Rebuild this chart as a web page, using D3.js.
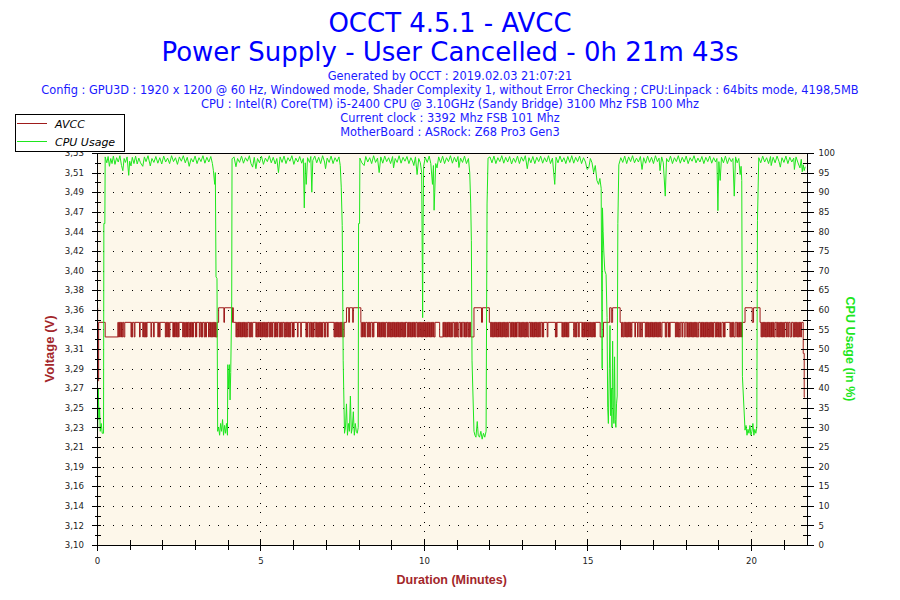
<!DOCTYPE html>
<meta charset="utf-8">
<script src="https://d3js.org/d3.v7.min.js"></script>
<style>
  body { margin: 0; background: #fff; }
</style>
<svg id="chart" width="900" height="600"></svg>
<script>

// ---- data ----
const titleLines = ["OCCT 4.5.1 - AVCC", "Power Supply - User Cancelled - 0h 21m 43s"];
const infoLines = [
  "Generated by OCCT : 2019.02.03 21:07:21",
  "Config : GPU3D : 1920 x 1200 @ 60 Hz, Windowed mode, Shader Complexity 1, without Error Checking ; CPU:Linpack : 64bits mode, 4198,5MB",
  "CPU : Intel(R) Core(TM) i5-2400 CPU @ 3.10GHz (Sandy Bridge) 3100 Mhz FSB 100 Mhz",
  "Current clock : 3392 Mhz FSB 101 Mhz",
  "MotherBoard : ASRock: Z68 Pro3 Gen3"
];
const seriesNames = ["AVCC", "CPU Usage"];
const minuteLabels = [0, 5, 10, 15, 20];
const voltLabels = ["3,10","3,12","3,14","3,16","3,19","3,21","3,23","3,25","3,27","3,29","3,31",
                    "3,34","3,36","3,38","3,40","3,42","3,44","3,47","3,49","3,51","3,53"];
const cpuTicks = [0,5,10,15,20,25,30,35,40,45,50,55,60,65,70,75,80,85,90,95,100];

// AVCC voltage [minute, volts] (step changes)
const avcc = [
  [0,3.36],[0.02,3.28],[0.05,3.344],[0.25,3.328],[0.64,3.344],
  [0.65,3.328],[0.67,3.344],[0.69,3.328],[0.71,3.344],[0.73,3.328],[0.75,3.344],[0.77,3.328],[0.79,3.344],
  [0.82,3.328],[0.85,3.344],
  [1.04,3.328],[1.06,3.344],[1.07,3.328],[1.09,3.344],
  [1.14,3.328],[1.16,3.344],
  [1.3,3.328],[1.32,3.344],
  [1.4,3.328],[1.42,3.344],[1.44,3.328],[1.46,3.344],[1.48,3.328],[1.5,3.344],[1.51,3.328],[1.53,3.344],
  [1.65,3.328],[1.67,3.344],[1.73,3.328],[1.75,3.344],[1.86,3.328],[1.88,3.344],[1.91,3.328],[1.93,3.344],
  [2.09,3.328],[2.11,3.344],[2.13,3.328],[2.15,3.344],[2.17,3.328],[2.19,3.344],[2.21,3.328],[2.23,3.344],
  [2.32,3.328],[2.34,3.344],
  [2.37,3.328],[2.39,3.344],[2.41,3.328],[2.43,3.344],[2.45,3.328],[2.47,3.344],[2.49,3.328],[2.51,3.344],
  [2.62,3.328],[2.64,3.344],[2.66,3.328],[2.68,3.344],[2.7,3.328],[2.72,3.344],[2.74,3.328],[2.76,3.344],[2.77,3.328],[2.79,3.344],
  [2.82,3.328],[2.84,3.344],[2.86,3.328],[2.88,3.344],[2.9,3.328],[2.92,3.344],[2.93,3.328],[2.95,3.344],
  [3.01,3.328],[3.03,3.344],[3.04,3.328],[3.05,3.344],
  [3.13,3.328],[3.15,3.344],
  [3.18,3.328],[3.2,3.344],[3.21,3.328],[3.23,3.344],
  [3.28,3.328],[3.3,3.344],[3.32,3.328],[3.35,3.344],
  [3.41,3.328],[3.43,3.344],[3.45,3.328],[3.47,3.344],[3.49,3.328],[3.51,3.344],[3.53,3.328],[3.55,3.344],
  [3.57,3.328],[3.59,3.344],[3.61,3.328],[3.63,3.344],[3.64,3.328],[3.67,3.344],
  [3.72,3.36],[3.88,3.344],[3.9,3.36],[4.13,3.344],[4.14,3.36],[4.17,3.344],
  [4.25,3.328],[4.27,3.344],[4.29,3.328],[4.31,3.344],[4.33,3.328],[4.35,3.344],[4.37,3.328],[4.39,3.344],
  [4.41,3.328],[4.43,3.344],[4.45,3.328],[4.47,3.344],[4.49,3.328],[4.51,3.344],[4.53,3.328],[4.55,3.344],[4.57,3.328],[4.6,3.344],
  [4.65,3.328],[4.67,3.344],[4.69,3.328],[4.71,3.344],[4.73,3.328],[4.76,3.344],
  [4.86,3.328],[4.88,3.344],[4.9,3.328],[4.92,3.344],[4.94,3.328],[4.96,3.344],[4.98,3.328],[5.0,3.344],[5.02,3.328],[5.04,3.344],
  [5.06,3.328],[5.08,3.344],[5.1,3.328],[5.12,3.344],[5.14,3.328],[5.16,3.344],[5.18,3.328],[5.2,3.344],[5.21,3.328],[5.23,3.344],
  [5.27,3.328],[5.29,3.344],[5.31,3.328],[5.33,3.344],[5.35,3.328],[5.37,3.344],
  [5.42,3.328],[5.44,3.344],[5.46,3.328],[5.48,3.344],[5.5,3.328],[5.52,3.344],
  [5.57,3.328],[5.59,3.344],[5.61,3.328],[5.63,3.344],[5.65,3.328],[5.67,3.344],
  [5.72,3.328],[5.74,3.344],[5.76,3.328],[5.78,3.344],[5.8,3.328],[5.82,3.344],[5.84,3.328],[5.86,3.344],[5.88,3.328],[5.9,3.344],[5.91,3.328],[5.93,3.344],
  [5.98,3.328],[6.0,3.344],[6.01,3.328],[6.03,3.344],
  [6.13,3.328],[6.15,3.344],[6.23,3.328],[6.25,3.344],
  [6.39,3.328],[6.41,3.344],[6.42,3.328],[6.44,3.344],
  [6.49,3.328],[6.51,3.344],
  [6.54,3.328],[6.56,3.344],[6.58,3.328],[6.6,3.344],[6.62,3.328],[6.64,3.344],
  [6.69,3.328],[6.71,3.344],[6.73,3.328],[6.75,3.344],[6.77,3.328],[6.79,3.344],[6.81,3.328],[6.83,3.344],[6.85,3.328],[6.87,3.344],[6.88,3.328],[6.9,3.344],
  [6.95,3.328],[6.97,3.344],[6.98,3.328],[7.0,3.344],
  [7.05,3.328],[7.07,3.344],
  [7.25,3.328],[7.27,3.344],[7.29,3.328],[7.31,3.344],[7.33,3.328],[7.35,3.344],[7.37,3.328],[7.39,3.344],
  [7.41,3.328],[7.43,3.344],[7.45,3.328],[7.47,3.344],[7.49,3.328],[7.51,3.344],[7.53,3.328],[7.56,3.344],
  [7.63,3.36],[7.7,3.344],[7.72,3.36],[7.82,3.344],[7.84,3.36],[8.07,3.344],
  [8.08,3.328],[8.1,3.344],[8.12,3.328],[8.14,3.344],[8.16,3.328],[8.18,3.344],[8.2,3.328],[8.22,3.344],
  [8.27,3.328],[8.29,3.344],[8.31,3.328],[8.33,3.344],[8.35,3.328],[8.37,3.344],
  [8.42,3.328],[8.44,3.344],[8.45,3.328],[8.47,3.344],
  [8.58,3.328],[8.6,3.344],[8.62,3.328],[8.64,3.344],[8.66,3.328],[8.68,3.344],[8.7,3.328],[8.72,3.344],
  [8.74,3.328],[8.76,3.344],[8.78,3.328],[8.8,3.344],[8.81,3.328],[8.83,3.344],
  [8.88,3.328],[8.9,3.344],[8.92,3.328],[8.94,3.344],[8.96,3.328],[8.98,3.344],[9.0,3.328],[9.02,3.344],
  [9.04,3.328],[9.06,3.344],[9.08,3.328],[9.1,3.344],[9.12,3.328],[9.14,3.344],[9.16,3.328],[9.18,3.344],
  [9.2,3.328],[9.22,3.344],[9.24,3.328],[9.26,3.344],[9.28,3.328],[9.3,3.344],[9.32,3.328],[9.34,3.344],
  [9.36,3.328],[9.38,3.344],[9.4,3.328],[9.42,3.344],[9.43,3.328],[9.44,3.344],
  [9.49,3.328],[9.51,3.344],[9.53,3.328],[9.55,3.344],[9.57,3.328],[9.59,3.344],[9.61,3.328],[9.63,3.344],
  [9.65,3.328],[9.67,3.344],[9.69,3.328],[9.71,3.344],[9.73,3.328],[9.75,3.344],
  [9.79,3.328],[9.81,3.344],[9.83,3.328],[9.85,3.344],[9.87,3.328],[9.89,3.344],[9.91,3.328],[9.93,3.344],
  [9.95,3.328],[9.97,3.344],[9.99,3.328],[10.01,3.344],[10.03,3.328],[10.05,3.344],[10.07,3.328],[10.09,3.344],
  [10.11,3.328],[10.13,3.344],[10.15,3.328],[10.17,3.344],[10.19,3.328],[10.21,3.344],[10.23,3.328],[10.25,3.344],
  [10.27,3.328],[10.29,3.344],[10.31,3.328],[10.34,3.344],
  [10.48,3.328],[10.58,3.344],
  [10.6,3.328],[10.62,3.344],[10.64,3.328],[10.66,3.344],[10.68,3.328],[10.7,3.344],[10.72,3.328],[10.74,3.344],
  [10.76,3.328],[10.78,3.344],[10.8,3.328],[10.82,3.344],[10.84,3.328],[10.87,3.344],
  [10.92,3.328],[10.94,3.344],[10.96,3.328],[10.98,3.344],[11.0,3.328],[11.02,3.344],[11.04,3.328],[11.07,3.344],
  [11.12,3.328],[11.14,3.344],[11.15,3.328],[11.17,3.344],
  [11.22,3.328],[11.24,3.344],[11.26,3.328],[11.28,3.344],[11.3,3.328],[11.32,3.344],
  [11.35,3.328],[11.37,3.344],[11.39,3.328],[11.41,3.344],[11.43,3.328],
  [11.53,3.36],[11.76,3.344],[11.79,3.36],[12.0,3.344],
  [12.04,3.328],[12.06,3.344],[12.08,3.328],[12.1,3.344],[12.12,3.328],[12.14,3.344],[12.16,3.328],[12.18,3.344],
  [12.2,3.328],[12.22,3.344],[12.24,3.328],[12.26,3.344],[12.28,3.328],[12.3,3.344],[12.32,3.328],[12.34,3.344],
  [12.36,3.328],[12.38,3.344],[12.4,3.328],[12.42,3.344],[12.44,3.328],[12.46,3.344],[12.48,3.328],[12.5,3.344],
  [12.52,3.328],[12.54,3.344],[12.56,3.328],[12.59,3.344],
  [12.64,3.328],[12.66,3.344],[12.68,3.328],[12.7,3.344],[12.72,3.328],[12.74,3.344],[12.76,3.328],[12.78,3.344],
  [12.8,3.328],[12.82,3.344],[12.83,3.328],[12.85,3.344],
  [12.9,3.328],[12.92,3.344],[12.94,3.328],[12.96,3.344],[12.98,3.328],[13.0,3.344],[13.02,3.328],[13.04,3.344],
  [13.06,3.328],[13.08,3.344],[13.1,3.328],[13.12,3.344],[13.14,3.328],[13.16,3.344],[13.18,3.328],[13.21,3.344],
  [13.26,3.328],[13.28,3.344],[13.3,3.328],[13.32,3.344],[13.34,3.328],[13.36,3.344],[13.38,3.328],[13.4,3.344],
  [13.42,3.328],[13.44,3.344],[13.46,3.328],[13.48,3.344],[13.5,3.328],[13.52,3.344],[13.54,3.328],[13.56,3.344],
  [13.61,3.328],[13.63,3.344],[13.64,3.328],[13.66,3.344],
  [13.77,3.328],[13.79,3.344],
  [14.02,3.328],[14.04,3.344],[14.05,3.328],[14.07,3.344],
  [14.22,3.328],[14.24,3.344],[14.26,3.328],[14.28,3.344],[14.3,3.328],[14.32,3.344],[14.34,3.328],[14.36,3.344],
  [14.38,3.328],[14.4,3.344],[14.41,3.328],[14.43,3.344],
  [14.58,3.328],[14.6,3.344],[14.63,3.328],[14.65,3.344],[14.66,3.328],[14.68,3.344],
  [14.73,3.328],[14.75,3.344],
  [14.83,3.328],[14.85,3.344],[14.87,3.328],[14.89,3.344],[14.91,3.328],[14.93,3.344],[14.95,3.328],[14.97,3.344],
  [14.99,3.328],[15.01,3.344],[15.03,3.328],[15.05,3.344],[15.07,3.328],[15.09,3.344],[15.11,3.328],[15.13,3.344],
  [15.15,3.328],[15.17,3.344],[15.19,3.328],[15.21,3.344],[15.22,3.328],[15.24,3.344],
  [15.39,3.328],[15.49,3.344],
  [15.68,3.36],[15.73,3.344],[15.77,3.36],[16.0,3.344],
  [16.04,3.328],[16.06,3.344],[16.08,3.328],[16.11,3.344],
  [16.14,3.328],[16.16,3.344],[16.18,3.328],[16.2,3.344],[16.22,3.328],[16.24,3.344],[16.26,3.328],[16.28,3.344],
  [16.3,3.328],[16.32,3.344],[16.34,3.328],[16.36,3.344],
  [16.45,3.328],[16.47,3.344],[16.53,3.328],[16.55,3.344],[16.6,3.328],[16.62,3.344],[16.66,3.328],[16.68,3.344],
  [16.77,3.328],[16.79,3.344],[16.81,3.328],[16.83,3.344],[16.85,3.328],[16.87,3.344],[16.89,3.328],[16.91,3.344],
  [16.93,3.328],[16.95,3.344],[16.97,3.328],[16.99,3.344],[17.01,3.328],[17.03,3.344],[17.05,3.328],[17.07,3.344],
  [17.09,3.328],[17.11,3.344],[17.13,3.328],[17.15,3.344],[17.17,3.328],[17.19,3.344],[17.21,3.328],[17.23,3.344],
  [17.25,3.328],[17.28,3.344],
  [17.38,3.328],[17.4,3.344],[17.41,3.328],[17.43,3.344],
  [17.48,3.328],[17.5,3.344],[17.51,3.328],[17.53,3.344],
  [17.69,3.328],[17.71,3.344],[17.73,3.328],[17.75,3.344],[17.77,3.328],[17.79,3.344],[17.81,3.328],[17.84,3.344],
  [17.89,3.328],[17.91,3.344],[17.96,3.328],[17.99,3.344],
  [18.04,3.328],[18.06,3.344],[18.08,3.328],[18.1,3.344],[18.12,3.328],[18.14,3.344],[18.16,3.328],[18.18,3.344],
  [18.2,3.328],[18.22,3.344],[18.24,3.328],[18.26,3.344],[18.28,3.328],[18.3,3.344],[18.32,3.328],[18.34,3.344],
  [18.36,3.328],[18.4,3.344],
  [18.45,3.328],[18.47,3.344],[18.49,3.328],[18.51,3.344],[18.53,3.328],[18.55,3.344],[18.57,3.328],[18.59,3.344],
  [18.61,3.328],[18.63,3.344],[18.65,3.328],[18.67,3.344],[18.69,3.328],[18.71,3.344],[18.73,3.328],[18.75,3.344],
  [18.77,3.328],[18.79,3.344],[18.81,3.328],[18.83,3.344],[18.84,3.328],[18.86,3.344],
  [18.91,3.328],[18.93,3.344],[18.95,3.328],[18.97,3.344],[18.99,3.328],[19.01,3.344],[19.03,3.328],[19.05,3.344],
  [19.07,3.328],[19.11,3.344],
  [19.16,3.328],[19.18,3.344],[19.19,3.328],[19.21,3.344],
  [19.36,3.328],[19.38,3.344],[19.4,3.328],[19.42,3.344],[19.44,3.328],[19.46,3.344],[19.48,3.328],[19.52,3.344],
  [19.57,3.328],[19.59,3.344],[19.61,3.328],[19.63,3.344],[19.65,3.328],[19.67,3.344],[19.69,3.328],[19.71,3.344],
  [19.72,3.328],[19.74,3.344],
  [19.82,3.36],[20.04,3.344],[20.08,3.36],[20.28,3.344],
  [20.31,3.328],[20.33,3.344],[20.35,3.328],[20.37,3.344],[20.39,3.328],[20.41,3.344],[20.43,3.328],[20.45,3.344],
  [20.47,3.328],[20.49,3.344],[20.51,3.328],[20.53,3.344],[20.55,3.328],[20.57,3.344],[20.59,3.328],[20.61,3.344],
  [20.63,3.328],[20.65,3.344],[20.67,3.328],[20.69,3.344],[20.71,3.328],[20.74,3.344],
  [20.79,3.328],[20.81,3.344],[20.83,3.328],[20.85,3.344],[20.87,3.328],[20.89,3.344],[20.91,3.328],[20.93,3.344],
  [20.95,3.328],[20.97,3.344],[20.99,3.328],[21.01,3.344],[21.02,3.328],[21.04,3.344],
  [21.09,3.328],[21.11,3.344],[21.14,3.328],[21.16,3.344],[21.2,3.328],[21.24,3.344],
  [21.29,3.328],[21.31,3.344],[21.33,3.328],[21.35,3.344],[21.37,3.328],[21.39,3.344],[21.41,3.328],[21.43,3.344],
  [21.45,3.328],[21.47,3.344],[21.49,3.328],[21.51,3.344],[21.53,3.328],[21.55,3.344],
  [21.6,3.31],[21.63,3.262],[21.65,3.262]
];

// CPU usage [minute, percent]
const cpu = [
  [0,36],[0.02,30],[0.04,40],[0.06,32],[0.08,35],[0.1,29],[0.13,31],[0.16,28.5],[0.2,28.5],[0.21,82],[0.24,82],[0.25,99],
  [0.3,97.5],[0.34,99.1],[0.38,96.6],[0.42,98.6],[0.46,97.3],[0.5,99.2],[0.55,97.1],[0.6,98.8],[0.65,97.7],[0.7,99.3],
  [0.75,96.8],[0.79,95.5],[0.83,98.6],[0.87,97.6],[0.92,99],[0.97,94.3],[1.0,97.9],[1.04,96.7],[1.08,98.9],[1.13,97.3],
  [1.18,99.2],[1.23,97.2],[1.28,98.7],[1.33,97.5],[1.4,96.6],[1.45,99],[1.5,97.8],[1.56,99.3],[1.63,96.7],[1.68,98.6],
  [1.74,97.6],[1.8,99.1],[1.86,97.4],[1.92,98.8],[1.98,97.2],[2.04,99.2],[2.1,97.7],[2.16,98.7],[2.22,97.3],[2.28,99.3],
  [2.34,97.8],[2.4,98.8],[2.46,97.1],[2.52,99],[2.58,97.9],[2.64,99.3],[2.7,97.5],[2.76,98.9],[2.82,96.6],[2.88,98.6],
  [2.94,97.7],[3.0,99.2],[3.06,97.3],[3.12,98.8],[3.18,97.8],[3.24,99.3],[3.3,97.4],[3.36,98.9],[3.42,97.7],[3.48,99.1],
  [3.53,97.3],[3.56,95.5],[3.6,92],[3.62,95],
  [3.64,68.4],[3.67,68],[3.69,29],[3.72,30],[3.75,28],[3.78,31],[3.81,29],[3.84,32],[3.87,28],[3.9,30.5],[3.93,28.5],
  [3.96,31],[3.99,28],[4.0,46],[4.03,40],[4.05,46],[4.07,37],[4.09,44],[4.12,62],[4.13,98.5],
  [4.19,99],[4.25,96.5],[4.3,98.6],[4.36,97.6],[4.42,99.2],[4.48,97.4],[4.54,98.8],[4.6,97.9],[4.66,99.3],[4.71,97.3],
  [4.76,96.4],[4.81,98.9],[4.86,96],[4.91,98.6],[4.97,97.5],[5.03,99.2],[5.09,97.1],[5.15,98.7],[5.21,97.8],[5.27,99.3],
  [5.33,97.5],[5.39,98.9],[5.45,97.2],[5.5,98.6],[5.55,95],[5.6,99],[5.66,97.6],[5.72,99.2],[5.78,97.3],[5.84,98.8],
  [5.9,97.9],[5.96,99.3],[6.02,97.1],[6.08,98.7],[6.14,97.7],[6.2,99.1],[6.26,97.4],[6.31,98.6],[6.34,86],[6.37,97.5],
  [6.4,92],[6.44,98.8],[6.5,97.6],[6.54,99.1],[6.57,90],[6.6,98.1],[6.66,99.2],[6.72,97.5],[6.78,98.9],[6.84,97.3],
  [6.9,99.3],[6.96,97.7],[6.99,96],[7.04,98.7],[7.1,97.6],[7.16,99.2],[7.22,97.3],[7.28,98.8],[7.34,97.8],[7.4,99],
  [7.44,96.8],[7.47,91.3],[7.5,81.5],
  [7.53,47],[7.57,28.5],[7.6,30],[7.63,36],[7.66,28],[7.69,31],[7.72,29],[7.75,38],[7.78,28.5],[7.81,30],[7.84,34],
  [7.87,28],[7.9,31],[7.93,29],[7.96,28.5],[7.99,30],[8.0,82],[8.03,82],[8.04,98.7],
  [8.1,97.5],[8.17,96.8],[8.22,99.1],[8.28,97.7],[8.34,98.8],[8.4,97.3],[8.46,99.3],[8.52,97.6],[8.58,98.7],[8.63,95],
  [8.68,99],[8.74,97.4],[8.8,99.2],[8.86,97.8],[8.92,98.8],[8.98,97.3],[9.04,99.1],[9.07,96.2],[9.12,98.6],[9.18,97.6],
  [9.24,99.3],[9.3,97.4],[9.36,98.9],[9.42,97.9],[9.48,99.1],[9.54,97.3],[9.6,98.8],[9.66,97.7],[9.69,96.8],[9.74,99],
  [9.79,94.5],[9.84,98.6],[9.89,97.5],[9.93,95],[9.96,58],[9.97,78.5],[9.99,96.6],[10.04,98.9],[10.1,97.6],[10.16,99.2],
  [10.21,97.3],[10.26,92],[10.29,96.8],[10.31,85.4],[10.33,90],[10.36,97.3],[10.4,96.2],[10.45,99],[10.51,97.5],
  [10.57,99.2],[10.63,97.3],[10.69,98.8],[10.75,97.8],[10.81,99.3],[10.87,97.4],[10.93,98.9],[10.99,97.7],[11.04,99.1],
  [11.07,96.3],[11.12,98.7],[11.18,97.6],[11.24,99.2],[11.3,97.3],[11.36,98.6],[11.4,95],[11.43,87],[11.45,77.7],
  [11.47,47],[11.53,29],[11.56,28],[11.59,27.5],[11.63,31.5],[11.66,28],[11.7,27.5],[11.74,29],[11.78,27],[11.82,28.5],
  [11.86,27.5],[11.9,29],[11.93,87],[11.96,98.7],
  [12.02,99],[12.08,97.5],[12.14,99.2],[12.2,97.3],[12.26,98.8],[12.32,97.8],[12.38,99.3],[12.44,97.4],[12.5,98.9],
  [12.56,97.7],[12.62,99.1],[12.68,97.2],[12.74,98.7],[12.8,97.6],[12.86,99.2],[12.92,97.3],[12.98,99],[13.04,97.9],
  [13.1,99.3],[13.16,96],[13.21,98.8],[13.27,97.5],[13.33,99.1],[13.39,97.3],[13.45,98.9],[13.51,97.8],[13.57,99.2],
  [13.63,97.4],[13.69,98.8],[13.75,97.7],[13.81,99.3],[13.87,97.3],[13.93,98.7],[14.0,92],[14.04,98.9],[14.1,97.5],
  [14.16,99.2],[14.22,97.7],[14.28,98.8],[14.34,97.3],[14.4,99.1],[14.46,97.6],[14.52,99.3],[14.58,97.4],[14.64,98.9],
  [14.7,97.8],[14.76,99.2],[14.82,97.3],[14.88,98.8],[14.94,97.7],[14.99,95.8],[15.04,96.2],[15.09,98.6],[15.14,97.5],
  [15.19,95],[15.24,96.8],[15.29,93],[15.34,92],[15.38,93.5],[15.42,91],
  [15.45,45],[15.46,86],[15.48,80],[15.5,75],[15.53,70],[15.57,69],[15.6,58],[15.62,35],[15.64,31],[15.67,45],[15.69,56],
  [15.71,33],[15.73,40],[15.75,30],[15.77,52],[15.79,35],[15.81,31],[15.83,48],[15.85,32],[15.87,30],[15.89,36],
  [15.91,38],[15.93,82],[15.96,97],
  [16.02,98.8],[16.08,97.6],[16.14,99.2],[16.2,97.3],[16.26,99],[16.32,97.8],[16.38,99.3],[16.44,97.5],[16.5,98.7],
  [16.56,97.7],[16.62,99.1],[16.67,95.8],[16.72,98.8],[16.78,97.4],[16.84,99.2],[16.9,97.6],[16.96,98.9],[17.02,97.3],
  [17.08,99.3],[17.14,97.8],[17.19,98.7],[17.22,95.5],[17.27,99],[17.32,97.5],[17.38,89],[17.42,98.6],[17.48,97.7],
  [17.54,99.2],[17.6,97.3],[17.66,98.8],[17.72,97.8],[17.78,99.3],[17.84,97.4],[17.9,98.9],[17.96,97.7],[18.02,99.2],
  [18.08,97.3],[18.14,98.8],[18.2,97.9],[18.26,99.3],[18.32,97.5],[18.38,98.7],[18.44,97.7],[18.5,99.1],[18.56,97.3],
  [18.62,98.9],[18.68,97.8],[18.74,99.2],[18.8,97.4],[18.86,98.8],[18.92,97.7],[18.96,98.6],[18.99,85.3],[19.02,97.8],
  [19.06,93],[19.1,98.9],[19.16,97.5],[19.22,99.2],[19.28,97.3],[19.34,98.8],[19.4,97.8],[19.45,98.6],[19.49,89],
  [19.53,99],[19.58,97.5],[19.63,98.6],[19.67,94.5],[19.7,96.6],[19.72,93],
  [19.74,43],[19.82,29.3],[19.85,30.5],[19.88,28],[19.91,29.5],[19.94,28.5],[19.97,30.5],[20.0,28],[20.03,29],[20.06,31],
  [20.09,28],[20.12,29.5],[20.15,28.5],[20.18,30],[20.2,82.8],[20.24,98.8],
  [20.3,97.5],[20.36,99.2],[20.42,97.7],[20.48,98.8],[20.54,97.3],[20.6,99.1],[20.62,96.8],[20.68,98.9],[20.74,97.5],
  [20.8,99.2],[20.86,97.8],[20.9,96.4],[20.95,98.8],[21.01,97.6],[21.07,99.2],[21.13,97.3],[21.19,98.9],[21.25,97.7],
  [21.31,98.7],[21.33,95.8],[21.38,99],[21.44,97.5],[21.5,96.2],[21.54,98.4],[21.57,95.2],[21.6,97],[21.63,95.5],[21.66,96.5]
];

// ---- layout ----
const svg = d3.select("#chart");
const width = +svg.attr("width"), height = +svg.attr("height");
const plot = { left: 97, right: 806.5, top: 153, bottom: 545 };
const avccColor = "#9e1b1b", cpuColor = "#1ee61e", axisRed = "#a3262a";

const x = d3.scaleLinear().domain([0, 21.7]).range([plot.left, plot.right]);
const yV = d3.scaleLinear().domain([3.10, 3.5296]).range([plot.bottom, plot.top]);
const yC = d3.scaleLinear().domain([0, 100]).range([plot.bottom, plot.top]);

svg.append("rect").attr("width", width).attr("height", height).attr("fill", "#fff");

// header
svg.selectAll("text.title")
  .data(titleLines)
  .join("text")
    .attr("class", "title")
    .attr("x", width / 2)
    .attr("y", (d, i) => 32 + i * 29)
    .attr("text-anchor", "middle")
    .style("font-family", "DejaVu Sans")
    .style("font-size", "26px")
    .style("fill", "#0000ff")
    .text(d => d);

svg.selectAll("text.info")
  .data(infoLines)
  .join("text")
    .attr("class", "info")
    .attr("x", width / 2)
    .attr("y", (d, i) => 80 + i * 13.9)
    .attr("text-anchor", "middle")
    .style("font-family", "DejaVu Sans")
    .style("font-size", "11.4px")
    .style("fill", "#1a1aff")
    .text(d => d);

// plot background
svg.append("rect")
  .attr("x", plot.left).attr("y", plot.top)
  .attr("width", plot.right - plot.left).attr("height", plot.bottom - plot.top)
  .attr("fill", "#fdf7ea");

// dotted grid
const grid = svg.append("g").attr("stroke", "#000").attr("stroke-width", 1)
  .attr("stroke-dasharray", "1,8.6").attr("shape-rendering", "crispEdges");
grid.selectAll("line.h")
  .data(cpuTicks.slice(1, -1))
  .join("line")
    .attr("x1", plot.left + 6).attr("x2", plot.right)
    .attr("y1", d => Math.round(yC(d)) + 0.5).attr("y2", d => Math.round(yC(d)) + 0.5);
grid.selectAll("line.v")
  .data(minuteLabels.slice(1))
  .join("line")
    .attr("x1", d => Math.round(x(d)) + 0.5).attr("x2", d => Math.round(x(d)) + 0.5)
    .attr("y1", plot.top + 4).attr("y2", plot.bottom);

// series
svg.append("clipPath").attr("id", "clip")
  .append("rect")
    .attr("x", plot.left).attr("y", plot.top)
    .attr("width", plot.right - plot.left).attr("height", plot.bottom - plot.top);

svg.append("path")
  .datum(avcc)
  .attr("clip-path", "url(#clip)")
  .attr("fill", "none")
  .attr("stroke", avccColor)
  .attr("stroke-width", 1)
  .attr("d", d3.line().curve(d3.curveStepAfter).x(d => x(d[0])).y(d => yV(d[1])));

svg.append("path")
  .datum(cpu)
  .attr("clip-path", "url(#clip)")
  .attr("fill", "none")
  .attr("stroke", cpuColor)
  .attr("stroke-width", 1)
  .attr("d", d3.line().x(d => x(d[0])).y(d => yC(d[1])));

// frame
svg.append("rect")
  .attr("x", plot.left + 0.5).attr("y", plot.top + 0.5)
  .attr("width", plot.right - plot.left).attr("height", plot.bottom - plot.top)
  .attr("fill", "none").attr("stroke", "#000").attr("shape-rendering", "crispEdges");

// axes (labels via d3 axes, crossing tick marks drawn separately)
const tickFont = g => g.selectAll("text")
  .style("font-family", "DejaVu Sans").style("font-size", "8.6px").style("fill", "#222");

const voltTickValues = cpuTicks.map(c => yV.invert(yC(c)));
svg.append("g")
  .attr("transform", `translate(${plot.left},0)`)
  .call(d3.axisLeft(yV).tickValues(voltTickValues).tickFormat((d, i) => voltLabels[i]).tickSize(0).tickPadding(13))
  .call(g => g.select(".domain").remove())
  .call(tickFont);

svg.append("g")
  .attr("transform", `translate(${plot.right},0)`)
  .call(d3.axisRight(yC).tickValues(cpuTicks).tickSize(0).tickPadding(12))
  .call(g => g.select(".domain").remove())
  .call(tickFont);

svg.append("g")
  .attr("transform", `translate(0,${plot.bottom})`)
  .call(d3.axisBottom(x).tickValues(minuteLabels).tickSize(0).tickPadding(13))
  .call(g => g.select(".domain").remove())
  .call(tickFont);

const ticks = svg.append("g").attr("stroke", "#000").attr("shape-rendering", "crispEdges");
const halfSteps = cpuTicks.slice(1).map(c => c - 2.5);
ticks.selectAll("line.lmaj").data(cpuTicks).join("line")
  .attr("x1", plot.left - 5).attr("x2", plot.left + 4)
  .attr("y1", d => Math.round(yC(d)) + 0.5).attr("y2", d => Math.round(yC(d)) + 0.5);
ticks.selectAll("line.lmin").data(halfSteps).join("line")
  .attr("x1", plot.left - 2).attr("x2", plot.left + 4)
  .attr("y1", d => Math.round(yC(d)) + 0.5).attr("y2", d => Math.round(yC(d)) + 0.5);
ticks.selectAll("line.rmaj").data(cpuTicks).join("line")
  .attr("x1", plot.right - 6).attr("x2", plot.right + 7)
  .attr("y1", d => Math.round(yC(d)) + 0.5).attr("y2", d => Math.round(yC(d)) + 0.5);
ticks.selectAll("line.rmin").data(halfSteps).join("line")
  .attr("x1", plot.right - 4).attr("x2", plot.right + 4)
  .attr("y1", d => Math.round(yC(d)) + 0.5).attr("y2", d => Math.round(yC(d)) + 0.5);
ticks.selectAll("line.b").data(d3.range(0, 22)).join("line")
  .attr("x1", d => Math.round(x(d)) + 0.5).attr("x2", d => Math.round(x(d)) + 0.5)
  .attr("y1", d => plot.bottom - (d % 5 === 0 ? 6 : 5)).attr("y2", d => plot.bottom + (d % 5 === 0 ? 6 : 5));

// axis titles
svg.append("text")
  .attr("transform", `translate(54,${(plot.top + plot.bottom) / 2}) rotate(-90)`)
  .attr("text-anchor", "middle")
  .style("font-family", "Liberation Sans").style("font-weight", "bold").style("font-size", "13px")
  .style("fill", axisRed)
  .text("Voltage (V)");

svg.append("text")
  .attr("transform", `translate(846,${(plot.top + plot.bottom) / 2}) rotate(90)`)
  .attr("text-anchor", "middle")
  .style("font-family", "Liberation Sans").style("font-weight", "bold").style("font-size", "12.5px")
  .style("fill", cpuColor)
  .text("CPU Usage (in %)");

svg.append("text")
  .attr("x", (plot.left + plot.right) / 2)
  .attr("y", 584)
  .attr("text-anchor", "middle")
  .style("font-family", "Liberation Sans").style("font-weight", "bold").style("font-size", "12.5px")
  .style("fill", axisRed)
  .text("Duration (Minutes)");

// legend
const legend = svg.append("g");
legend.append("rect")
  .attr("x", 15.5).attr("y", 114.5).attr("width", 109).attr("height", 37)
  .attr("fill", "#fff").attr("stroke", "#000");
legend.selectAll("line")
  .data(seriesNames)
  .join("line")
    .attr("x1", 17).attr("x2", 47)
    .attr("y1", (d, i) => 123.5 + i * 18).attr("y2", (d, i) => 123.5 + i * 18)
    .attr("stroke", (d, i) => i === 0 ? avccColor : cpuColor);
legend.selectAll("text")
  .data(seriesNames)
  .join("text")
    .attr("x", 55)
    .attr("y", (d, i) => 127.5 + i * 18)
    .style("font-family", "DejaVu Sans").style("font-style", "italic").style("font-size", "11px")
    .style("fill", "#000")
    .text(d => d);

</script>
